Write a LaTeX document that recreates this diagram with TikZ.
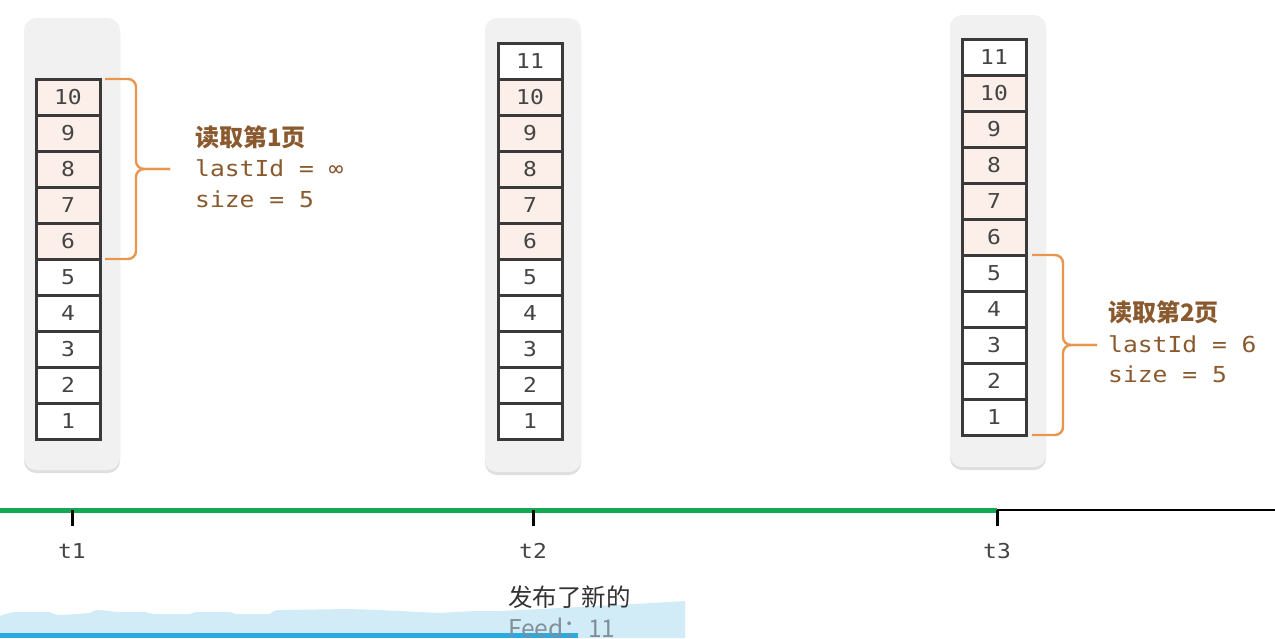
\documentclass[tikz,border=0pt]{standalone}
\usepackage{fontspec}
\setmonofont{DejaVu Sans Mono}[FakeStretch=1.12]
\newfontfamily\cjk{Noto Sans CJK SC}
\usetikzlibrary{shadows}
\definecolor{cellline}{HTML}{3A3A3A}
\definecolor{digit}{HTML}{444444}
\definecolor{pinkfill}{HTML}{FCEFEA}
\definecolor{bggray}{HTML}{F1F1F1}
\definecolor{bracecol}{HTML}{E8964E}
\definecolor{labelcol}{HTML}{8A5A2E}
\definecolor{axisgreen}{HTML}{12A854}
\definecolor{bandblue}{HTML}{D2ECF7}
\definecolor{lineblue}{HTML}{2BA9E1}
\definecolor{feedgray}{HTML}{7F9099}
\begin{document}
\begin{tikzpicture}[x=1pt,y=-1pt,
  cell/.style={draw=cellline, line width=3pt, fill=white, minimum width=64pt,
    minimum height=36pt, inner sep=0pt, outer sep=0pt,
    font=\ttfamily\fontsize{20.5}{20.5}\selectfont, text=digit},
  hot/.style={cell, fill=pinkfill},
  bgbox/.style={fill=bggray, rounded corners=12pt, minimum width=96pt, inner sep=0pt,
    drop shadow={shadow xshift=0pt, shadow yshift=-3pt, opacity=.25, fill=black!50}},
  brace/.style={draw=bracecol, line width=2.4pt, rounded corners=8pt},
  lbl/.style={anchor=west, inner sep=0pt, text=labelcol,
    font=\ttfamily\fontsize{22}{22}\selectfont},
  lblcjk/.style={anchor=west, inner sep=0pt, text=labelcol,
    font=\cjk\bfseries\fontsize{24}{24}\selectfont},
  tick/.style={draw=black, line width=3pt},
  tlbl/.style={inner sep=0pt, text=digit, font=\ttfamily\fontsize{20.5}{20.5}\selectfont},
  note/.style={anchor=west, inner sep=0pt, font=\cjk\fontsize{24.5}{24.5}\selectfont}
]
\useasboundingbox (0,0) rectangle (1275,638);
\fill[white] (0,0) rectangle (1275,638);

% background panels
\node[bgbox, minimum height=452pt] (bg1) at (72,244) {};
\node[bgbox, minimum height=454pt] (bg2) at (533,245) {};
\node[bgbox, minimum height=452pt] (bg3) at (998,241) {};

% column 1 (t1)
\foreach \k in {1,...,5} \node[cell] (a\k) at (68,{439-36*(\k-0.5)}) {\k};
\foreach \k in {6,...,10} \node[hot] (a\k) at (68,{439-36*(\k-0.5)}) {\k};
% column 2 (t2)
\foreach \k in {1,...,5} \node[cell] (b\k) at (530,{439-36*(\k-0.5)}) {\k};
\foreach \k in {6,...,10} \node[hot] (b\k) at (530,{439-36*(\k-0.5)}) {\k};
\node[cell] (b11) at (530,{439-36*10.5}) {11};
% column 3 (t3)
\foreach \k in {1,...,5} \node[cell] (c\k) at (994,{435-36*(\k-0.5)}) {\k};
\foreach \k in {6,...,10} \node[hot] (c\k) at (994,{435-36*(\k-0.5)}) {\k};
\node[cell] (c11) at (994,{435-36*10.5}) {11};

% brace 1
\coordinate (br1mid) at (136,169);
\coordinate (br1tip) at (170,169);
\draw[brace] ([xshift=5pt]a10.north east) -| (br1mid) -- (br1tip);
\draw[brace] ([xshift=5pt]a6.south east) -| (br1mid) -- (br1tip);
\node[lblcjk] (p1a) at (195,137) {读取第1页};
\node[lbl] (p1b) at (195,168) {lastId = ∞};
\node[lbl] (p1c) at (195,199) {size = 5};

% brace 2
\coordinate (br2mid) at (1063,345);
\coordinate (br2tip) at (1097,345);
\draw[brace] ([xshift=6pt]c5.north east) -| (br2mid) -- (br2tip);
\draw[brace] ([xshift=6pt]c1.south east) -| (br2mid) -- (br2tip);
\node[lblcjk] (p2a) at (1108,312) {读取第2页};
\node[lbl] (p2b) at (1108,344) {lastId = 6};
\node[lbl] (p2c) at (1108,374) {size = 5};

% time axis
\coordinate (ax0) at (0,510);
\coordinate (t1) at (72,510);
\coordinate (t2) at (533,510);
\coordinate (t3) at (997,510);
\coordinate (axend) at (1275,510);
\draw[black, line width=2.5pt] (t3) -- (axend);
\draw[axisgreen, line width=5pt] (ax0) -- (t3);
\draw[tick] (t1) -- ++(0,16);
\draw[tick] (t2) -- ++(0,16);
\draw[tick] (t3) -- ++(0,16);
\node[tlbl] (l1) at (72,551) {t1};
\node[tlbl] (l2) at (533,551) {t2};
\node[tlbl] (l3) at (997,551) {t3};

% bottom band
\fill[bandblue] (0,616) .. controls (8,613) and (12,612) .. (17,612)
  -- (50,612) .. controls (55,615) and (58,615) .. (62,615)
  -- (90,613) .. controls (95,610) .. (100,610)
  -- (117,612) -- (145,612) .. controls (152,614) .. (160,614)
  -- (190,614) .. controls (195,612) .. (200,612) -- (230,612)
  .. controls (235,614) .. (240,614) -- (270,614)
  .. controls (275,610) .. (282,610) -- (350,609)
  .. controls (380,610) .. (440,613) .. controls (470,611) .. (500,611)
  .. controls (600,606) .. (685,601) -- (685,638) -- (0,638) -- cycle;
\fill[lineblue] (0,632.5) rectangle (578,638);
\node[note, text=black!80] (n1) at (508,597) {发布了新的};
\node[note, text=feedgray] (n2) at (508,628) {Feed：11};
\end{tikzpicture}
\end{document}
